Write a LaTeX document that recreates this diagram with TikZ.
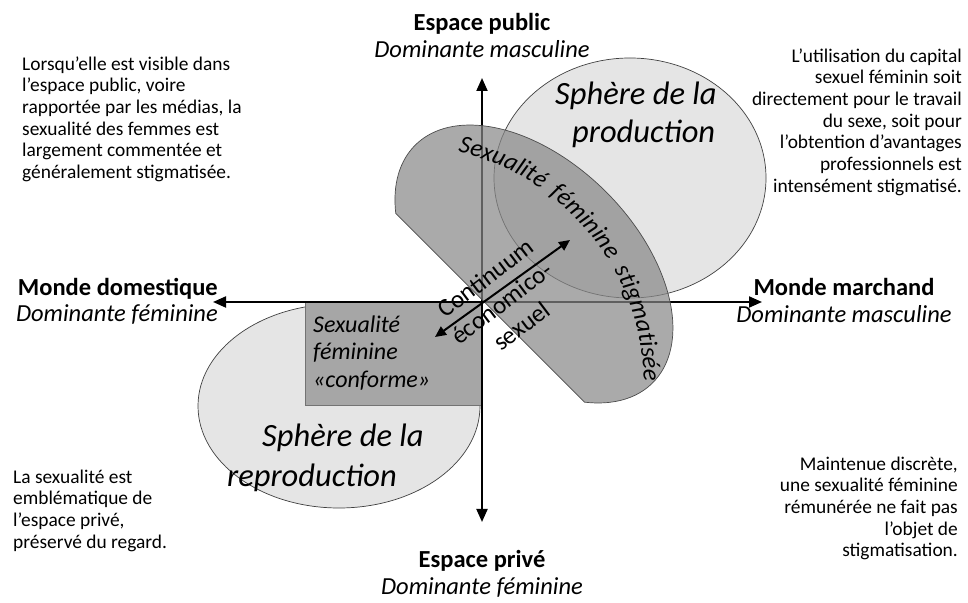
\documentclass[tikz,border=0pt]{standalone}
\usepackage{fontspec}
\setmainfont{Carlito}
\usetikzlibrary{arrows.meta,decorations.text}
\newcommand\dgbody{\fontsize{19.4}{21.7}\selectfont}
\newcommand\dgaxis{\fontsize{24.5}{27}\selectfont}
\newcommand\dgbig{\itshape\fontsize{32.5}{40}\selectfont}
\newcommand\dgconf{\itshape\fontsize{24}{27.5}\selectfont}
\newcommand\dgcont{\fontsize{25}{28}\selectfont}
\newcommand\dgstig{\itshape\fontsize{25}{28}\selectfont}
\begin{document}
\begin{tikzpicture}[x=1pt,y=1pt,
  sphere/.style={fill=black!10, draw=black!75, line width=0.7pt},
  conformebox/.style={fill=black!35, draw=black!55, line width=0.5pt},
  stigshape/.style={fill=black!47, fill opacity=0.71, draw=black!70, line width=0.7pt},
  axisline/.style={line width=2pt, {Triangle[length=13pt,width=11pt]}-{Triangle[length=13pt,width=11pt]}},
  contarrow/.style={line width=2pt, {Triangle[length=11pt,width=10pt]}-{Triangle[length=11pt,width=10pt]}},
  lab/.style={inner sep=0, font=\dgaxis},
  para/.style={inner sep=0, font=\dgbody},
  contlab/.style={inner sep=0, font=\dgcont, rotate=37, anchor=base},
  bigit/.style={inner sep=0, font=\dgbig, anchor=base west}]
\useasboundingbox (0,0) rectangle (968,602);
% spheres
\draw[sphere] (630,424) ellipse[x radius=136, y radius=120];
\draw[sphere] (339,196) ellipse[x radius=141, y radius=102];
\draw[conformebox] (305,197) rectangle (482,300);
% axes
\coordinate (O) at (482,300);
\coordinate (axT) at (482,524);
\coordinate (axB) at (482,80);
\coordinate (axL) at (213,300);
\coordinate (axR) at (762,300);
\draw[axisline] (axB) -- (axT);
\draw[axisline] (axL) -- (axR);
% stigmatised sexuality
\begin{scope}[shift={(534,338)}, rotate=-45]
  \draw[stigshape] (133.4,-62) arc[start angle=-37.4, end angle=217.4, x radius=168, y radius=102] -- cycle;
  \path[decorate, decoration={text along path, text={|\dgstig|Sexualité féminine stigmatisée}, text align={fit to path stretching spaces}}]
    (-133.2,25.5) arc[start angle=122, end angle=46, radius=240];
\end{scope}
% continuum
\coordinate (cA) at (435,265);
\coordinate (cB) at (570,362);
\draw[contarrow] (cA) -- (cB);
\node[contlab] (cont1) at (490.6,317.2) {Continuum};
\node[contlab] (cont2) at (506.6,292.2) {économico-};
\node[contlab] (cont3) at (526.6,269.2) {sexuel};
% axis labels
\node[lab, anchor=base, font=\dgaxis\bfseries] (pub) at (482,571) {Espace public};
\node[lab, anchor=base, font=\dgaxis\itshape] (pubd) at (482,544) {Dominante masculine};
\node[lab, anchor=base, font=\dgaxis\bfseries] (priv) at (482,35) {Espace privé};
\node[lab, anchor=base, font=\dgaxis\itshape] (privd) at (482,8) {Dominante féminine};
\node[lab, anchor=base east, font=\dgaxis\bfseries] (dom) at (218,306) {Monde domestique};
\node[lab, anchor=base east, font=\dgaxis\itshape] (domd) at (218,280) {Dominante féminine};
\node[lab, anchor=base, font=\dgaxis\bfseries] (mar) at (844,306) {Monde marchand};
\node[lab, anchor=base, font=\dgaxis\itshape] (mard) at (844,279) {Dominante masculine};
% sphere labels
\node[bigit] (sp1) at (555,497) {Sphère de la};
\node[bigit] (sp2) at (572,459) {production};
\node[bigit] (sr1) at (262,155) {Sphère de la};
\node[bigit] (sr2) at (227,115) {reproduction};
\node[anchor=north west, inner sep=0, align=left, font=\dgconf] (conf) at (313,289.25) {\strut Sexualité\\ féminine\\ «conforme»};
% corner texts
\node[para, anchor=north west, align=left] (tl) at (22,547.2) {\strut Lorsqu’elle est visible dans\\ l’espace public, voire\\ rapportée par les médias, la\\ sexualité des femmes est\\ largement commentée et\\ généralement stigmatisée.};
\node[para, anchor=north east, align=right] (tr) at (962,555.2) {\strut L’utilisation du capital\\ sexuel féminin soit\\ directement pour le travail\\ du sexe, soit pour\\ l’obtention d’avantages\\ professionnels est\\ intensément stigmatisé.};
\node[para, anchor=north west, align=left] (bl) at (13,134.2) {\strut La sexualité est\\ emblématique de\\ l’espace privé,\\ préservé du regard.};
\node[para, anchor=north east, align=right] (br) at (958,147.2) {\strut Maintenue discrète,\\ une sexualité féminine\\ rémunérée ne fait pas\\ l’objet de\\ stigmatisation.};
\end{tikzpicture}
\end{document}
